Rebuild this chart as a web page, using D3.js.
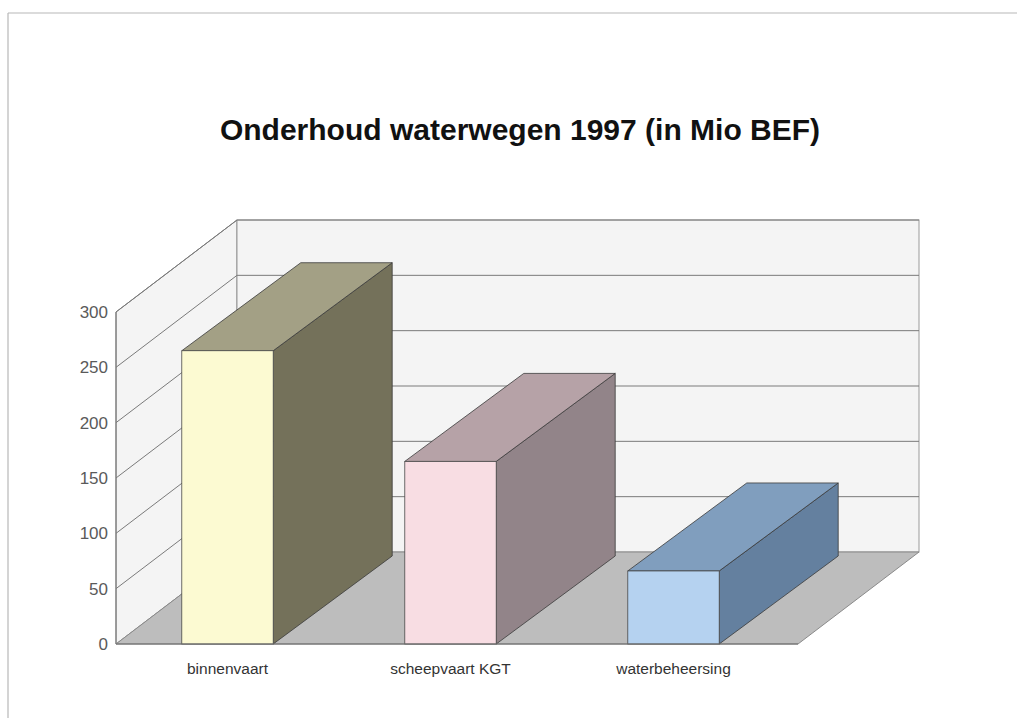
<!DOCTYPE html>
<html>
<head>
<meta charset="utf-8">
<script src="https://cdn.jsdelivr.net/npm/d3@7"></script>
<style>
  html, body { margin: 0; padding: 0; background: #ffffff; }
  svg { display: block; }
</style>
</head>
<body>
<svg id="chart" width="1017" height="718"></svg>
<script>
const title = "Onderhoud waterwegen 1997 (in Mio BEF)";
const categories = ["binnenvaart", "scheepvaart KGT", "waterbeheersing"];
const values = [265, 165, 66];
const yTicks = [0, 50, 100, 150, 200, 250, 300];
const frontColors = ["#fcfad2", "#f8dde3", "#b5d2f0"];
const topColors = ["#a3a085", "#b6a2a7", "#809ebe"];
const sideColors = ["#74715a", "#928489", "#64809f"];

const svg = d3.select("#chart");

// frame
svg.append("line").attr("x1", 8).attr("x2", 1017).attr("y1", 13).attr("y2", 13)
  .attr("stroke", "#b8b8b8").attr("stroke-width", 1.2);
svg.append("line").attr("x1", 8).attr("x2", 8).attr("y1", 13).attr("y2", 718)
  .attr("stroke", "#b8b8b8").attr("stroke-width", 1.2);

// geometry
const x0 = 116, xFloorEnd = 798;
const depth = { dx: 121, dy: -92 };
const barDepth = { dx: 119, dy: -88 };
const y = d3.scaleLinear().domain([0, 300]).range([644, 312]);
const x = d3.scaleBand().domain(categories).range([116, 785]).paddingInner(0.59).paddingOuter(0.295);

const g = svg.append("g");
const gridColor = "#7a7a7a";

// left wall
g.append("polygon")
  .attr("points", [[x0, y(0)], [x0 + depth.dx, y(0) + depth.dy], [x0 + depth.dx, y(300) + depth.dy], [x0, y(300)]].join(" "))
  .attr("fill", "#f4f4f4").attr("stroke", gridColor).attr("stroke-width", 1);
// back wall
g.append("rect")
  .attr("x", x0 + depth.dx).attr("y", y(300) + depth.dy)
  .attr("width", xFloorEnd + depth.dx - (x0 + depth.dx)).attr("height", y(0) - y(300))
  .attr("fill", "#f4f4f4").attr("stroke", "#9a9a9a").attr("stroke-width", 1);

// gridlines
yTicks.filter(v => v > 0).forEach(v => {
  g.append("line")
    .attr("x1", x0).attr("y1", y(v)).attr("x2", x0 + depth.dx).attr("y2", y(v) + depth.dy)
    .attr("stroke", gridColor).attr("stroke-width", 1);
  g.append("line")
    .attr("x1", x0 + depth.dx).attr("y1", y(v) + depth.dy).attr("x2", xFloorEnd + depth.dx).attr("y2", y(v) + depth.dy)
    .attr("stroke", gridColor).attr("stroke-width", 1);
});

// floor
g.append("polygon")
  .attr("points", [[x0, y(0)], [xFloorEnd, y(0)], [xFloorEnd + depth.dx, y(0) + depth.dy], [x0 + depth.dx, y(0) + depth.dy]].join(" "))
  .attr("fill", "#bdbdbd").attr("stroke", "#8a8a8a").attr("stroke-width", 1);

// y tick labels
g.selectAll("text.ytick").data(yTicks).join("text")
  .attr("class", "ytick")
  .attr("x", 108).attr("y", d => y(d))
  .attr("dy", "0.36em")
  .attr("text-anchor", "end")
  .attr("font-family", "Liberation Sans, Arial, sans-serif")
  .attr("font-size", 17)
  .attr("fill", "#5a5a5a")
  .text(d => d);

// bars
categories.forEach((c, i) => {
  const bx0 = x(c), bx1 = x(c) + x.bandwidth();
  const yv = y(values[i]), yb = y(0);
  const bar = g.append("g");
  bar.append("polygon")
    .attr("points", [[bx1, yb], [bx1, yv], [bx1 + barDepth.dx, yv + barDepth.dy], [bx1 + barDepth.dx, yb + barDepth.dy]].join(" "))
    .attr("fill", sideColors[i]).attr("stroke", "#3a3a3a").attr("stroke-width", 0.8);
  bar.append("polygon")
    .attr("points", [[bx0, yv], [bx1, yv], [bx1 + barDepth.dx, yv + barDepth.dy], [bx0 + barDepth.dx, yv + barDepth.dy]].join(" "))
    .attr("fill", topColors[i]).attr("stroke", "#3a3a3a").attr("stroke-width", 0.8);
  bar.append("rect")
    .attr("x", bx0).attr("y", yv).attr("width", bx1 - bx0).attr("height", yb - yv)
    .attr("fill", frontColors[i]).attr("stroke", "#4a4a4a").attr("stroke-width", 0.8);
});

// front baseline
g.append("line").attr("x1", x0).attr("x2", xFloorEnd).attr("y1", y(0)).attr("y2", y(0))
  .attr("stroke", "#6a6a6a").attr("stroke-width", 1);
g.append("line").attr("x1", x0).attr("x2", x0).attr("y1", y(0)).attr("y2", y(300))
  .attr("stroke", gridColor).attr("stroke-width", 1);

// category labels
g.selectAll("text.cat").data(categories).join("text")
  .attr("class", "cat")
  .attr("x", d => x(d) + x.bandwidth() / 2)
  .attr("y", 674)
  .attr("text-anchor", "middle")
  .attr("font-family", "Liberation Sans, Arial, sans-serif")
  .attr("font-size", 15.5)
  .attr("fill", "#333")
  .text(d => d);

// title
svg.append("text")
  .attr("x", 520).attr("y", 140)
  .attr("text-anchor", "middle")
  .attr("font-family", "Liberation Sans, Arial, sans-serif")
  .attr("font-weight", "bold")
  .attr("font-size", 30)
  .attr("fill", "#111")
  .text(title);
</script>
</body>
</html>
